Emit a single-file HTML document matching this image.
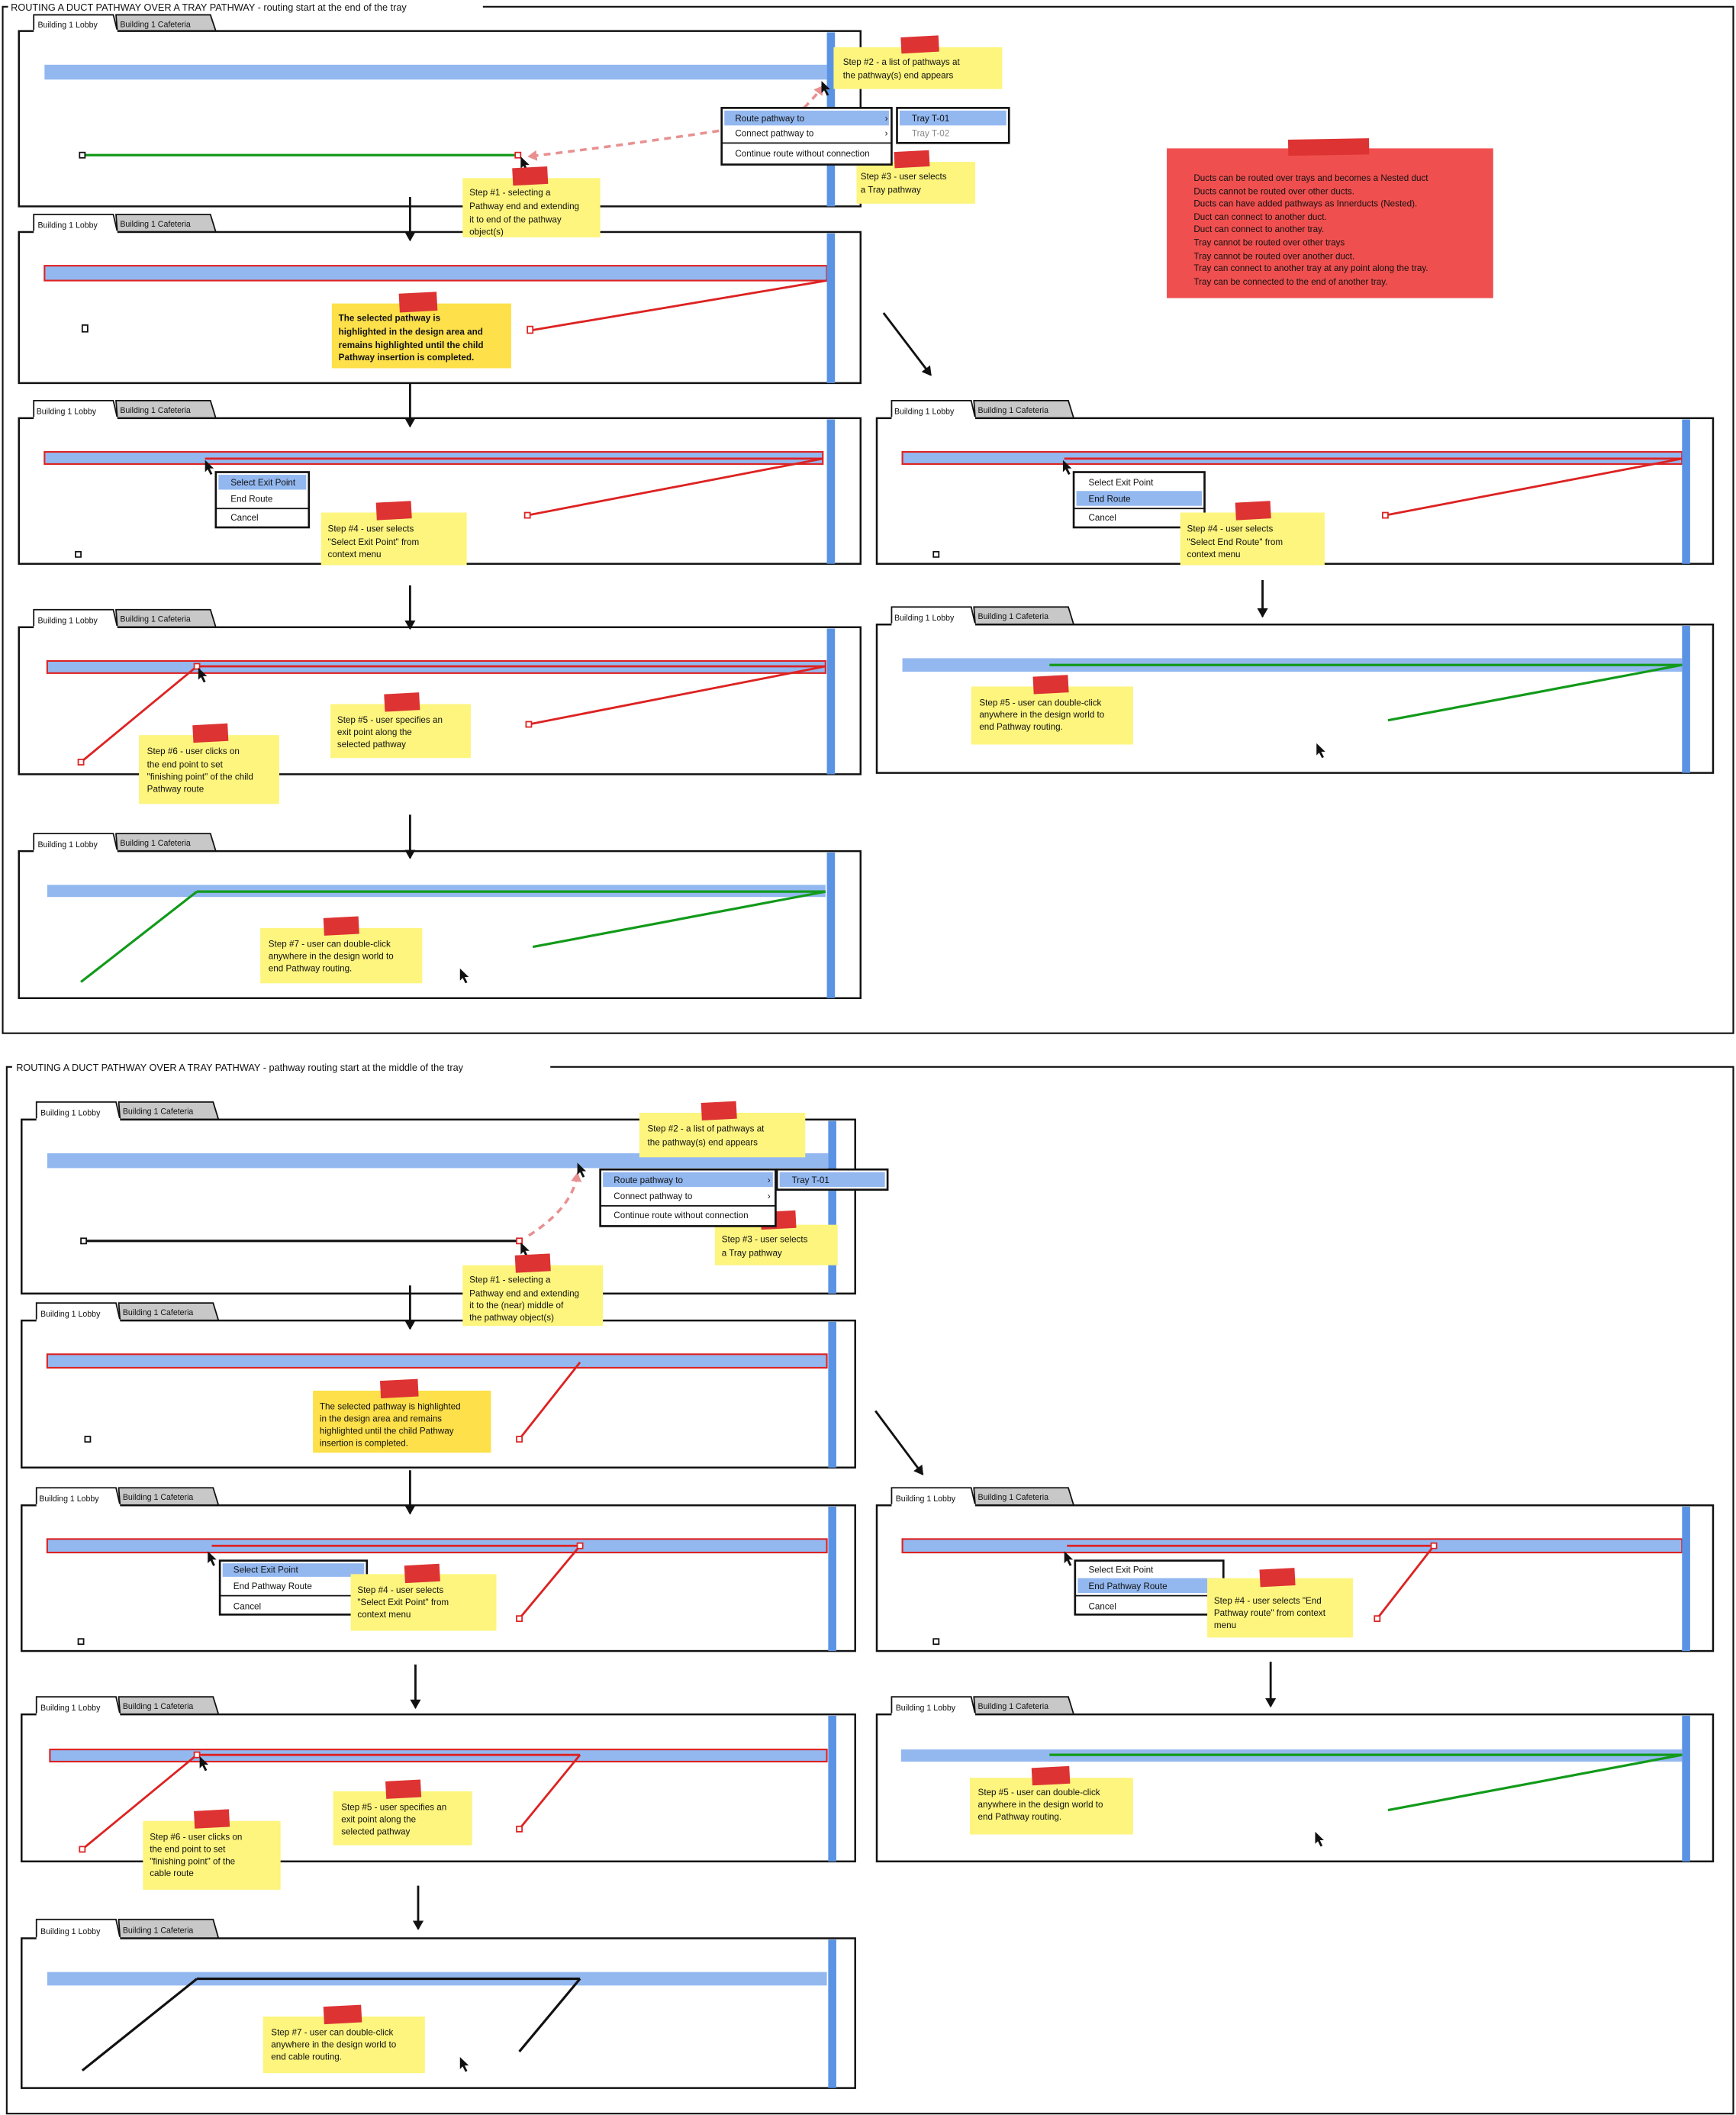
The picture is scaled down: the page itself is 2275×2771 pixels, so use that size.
<!DOCTYPE html>
<html><head><meta charset="utf-8"><style>
html,body{margin:0;padding:0;background:#fff}
svg{display:block}
text{font-family:"Liberation Sans Narrow","Liberation Sans",sans-serif;font-size:6.6px;fill:#111}
.tab{font-size:6px}
.pn{fill:#fff;stroke:#111;stroke-width:1.4}
.bar{fill:#93b8f0}
.hb{fill:#93b8f0;stroke:#d22;stroke-width:1.2}
.vb{fill:#5b93e4}
.st{fill:#fdf57e}
.tp{fill:#dd3333}
.ar{stroke:#111;stroke-width:1.6;fill:none}
.mn{fill:#fff;stroke:#111;stroke-width:1.5}
.hl{fill:#93b8f0}
.sq{fill:#fff;stroke:#111;stroke-width:1}
.rsq{fill:#fff;stroke:#d22;stroke-width:1}
.rl{stroke:#d22;stroke-width:1.6;fill:none}
.gl{stroke:#129a1a;stroke-width:1.8;fill:none}
.bl{stroke:#111;stroke-width:1.8;fill:none}
.dash{stroke:#e89090;stroke-width:2;stroke-dasharray:5 4;fill:none}
.t1{fill:#fff;stroke:#111;stroke-width:1}
.t2{fill:#c8c8c8;stroke:#111;stroke-width:1}
</style></head><body>
<svg width="2275" height="2771" viewBox="0 0 1287 1568" preserveAspectRatio="none" xmlns="http://www.w3.org/2000/svg">
<defs>
<marker id="ah" markerWidth="8" markerHeight="8" refX="6" refY="4" orient="auto" markerUnits="userSpaceOnUse"><path d="M0,0 L7,4 L0,8 Z" fill="#111"/></marker>
<marker id="ph" markerWidth="8" markerHeight="8" refX="6" refY="4" orient="auto" markerUnits="userSpaceOnUse"><path d="M0,0 L7,4 L0,8 Z" fill="#e89090"/></marker>
</defs>

<!-- ===== TOP FRAME ===== -->
<path d="M358,5 L1285,5 L1285,766 L2,766 L2,5 L6,5" fill="none" stroke="#111" stroke-width="1.2"/>
<text x="8" y="8" style="font-size:7.2px">ROUTING A DUCT PATHWAY OVER A TRAY PATHWAY - routing start at the end of the tray</text>

<!-- Panel 1 -->
<path class="t1" d="M25,23 L25,11 L84,11 L87,23 Z"/>
<path class="t2" d="M87,23 L86,11 L156,11 L160,23 Z"/>
<rect class="pn" x="14" y="23" width="624" height="130"/>
<path d="M25,23 L87,23" stroke="#fff" stroke-width="2"/>
<text class="tab" x="28" y="20.5">Building 1 Lobby</text><text class="tab" x="89" y="20">Building 1 Cafeteria</text>
<rect class="bar" x="33" y="48" width="580" height="11"/>
<rect class="vb" x="613" y="24" width="6" height="129"/>
<line class="gl" x1="61" y1="115" x2="384" y2="115"/>
<rect class="sq" x="59" y="113" width="4" height="4"/><rect class="rsq" x="382" y="113" width="4" height="4"/>
<path class="dash" d="M533,97 Q460,108 392,116" marker-end="url(#ph)"/>
<path class="dash" d="M596,80 Q604,72 610,64" marker-end="url(#ph)"/>
<path d="M386,116 l0,9 l2,-2 l2,4 l1.5,-.7 l-2,-4 l3,0 Z" fill="#111"/>
<path d="M609,60 l0,9 l2,-2 l2,4 l1.5,-.7 l-2,-4 l3,0 Z" fill="#111"/>
<rect class="st" x="618" y="35" width="125" height="31"/>
<rect class="tp" x="668" y="27" width="28" height="12" transform="rotate(-3 682 33)"/>
<text x="625" y="48">Step #2 - a list of pathways at</text><text x="625" y="58">the pathway(s) end appears</text>
<rect class="st" x="635" y="120" width="88" height="31"/>
<rect class="tp" x="663" y="112" width="26" height="12" transform="rotate(-3 676 118)"/>
<text x="638" y="133">Step #3 - user selects</text><text x="638" y="143">a Tray pathway</text>
<rect class="mn" x="535" y="80" width="126" height="42"/>
<rect class="hl" x="537" y="82" width="122" height="11"/>
<text x="545" y="90">Route pathway to</text><text x="545" y="101">Connect pathway to</text>
<text x="656" y="90">›</text><text x="656" y="101">›</text>
<line x1="535" y1="106" x2="661" y2="106" stroke="#111"/>
<text x="545" y="116">Continue route without connection</text>
<rect class="mn" x="665" y="80" width="83" height="26"/>
<rect class="hl" x="667" y="82" width="79" height="11"/>
<text x="676" y="90">Tray T-01</text><text x="676" y="101" style="fill:#888">Tray T-02</text>

<!-- Red note -->
<rect x="865" y="110" width="242" height="111" fill="#f04f4f"/>
<rect class="tp" x="955" y="103" width="60" height="12" fill="#d42828" transform="rotate(-1 985 109)"/>
<text x="885" y="134">Ducts can be routed over trays and becomes a Nested duct</text>
<text x="885" y="144">Ducts cannot be routed over other ducts.</text>
<text x="885" y="153">Ducts can have added pathways as Innerducts (Nested).</text>
<text x="885" y="163">Duct can connect to another duct.</text>
<text x="885" y="172">Duct can connect to another tray.</text>
<text x="885" y="182">Tray cannot be routed over other trays</text>
<text x="885" y="192">Tray cannot be routed over another duct.</text>
<text x="885" y="201">Tray can connect to another tray at any point along the tray.</text>
<text x="885" y="211">Tray can be connected to the end of another tray.</text>

<!-- Panel 2 -->
<path class="t1" d="M25,172 L25,159 L84,159 L87,172 Z"/>
<path class="t2" d="M87,172 L86,159 L156,159 L160,172 Z"/>
<rect class="pn" x="14" y="172" width="624" height="112"/>
<path d="M25,172 L87,172" stroke="#fff" stroke-width="2"/>
<text class="tab" x="28" y="169">Building 1 Lobby</text><text class="tab" x="89" y="168">Building 1 Cafeteria</text>
<rect class="hb" x="33" y="197" width="580" height="11"/>
<rect class="vb" x="613" y="173" width="6" height="111"/>
<line class="rl" x1="613" y1="208" x2="393" y2="245"/>
<rect class="rsq" x="391" y="242" width="4" height="5"/>
<rect class="sq" x="61" y="241" width="4" height="5"/>
<rect x="246" y="225" width="133" height="48" fill="#fde04a"/>
<rect class="tp" x="296" y="217" width="28" height="14" transform="rotate(-3 310 224)"/>
<text x="251" y="238" style="font-weight:bold">The selected pathway is</text><text x="251" y="248" style="font-weight:bold">highlighted in the design area and</text><text x="251" y="258" style="font-weight:bold">remains highlighted until the child</text><text x="251" y="267" style="font-weight:bold">Pathway insertion is completed.</text>

<!-- Panel 3 -->
<path class="t1" d="M25,310 L25,297 L84,297 L87,310 Z"/>
<path class="t2" d="M87,310 L86,297 L156,297 L160,310 Z"/>
<rect class="pn" x="14" y="310" width="624" height="108"/>
<path d="M25,310 L87,310" stroke="#fff" stroke-width="2"/>
<text class="tab" x="27" y="307">Building 1 Lobby</text><text class="tab" x="89" y="306">Building 1 Cafeteria</text>
<rect class="hb" x="33" y="335" width="577" height="9"/>
<line class="rl" x1="152" y1="340" x2="610" y2="340"/>
<rect class="vb" x="613" y="311" width="6" height="107"/>
<line class="rl" x1="610" y1="340" x2="391" y2="382"/>
<rect class="rsq" x="389" y="380" width="4" height="4"/>
<rect class="sq" x="56" y="409" width="4" height="4"/>
<path d="M152,341 l0,9 l2,-2 l2,4 l1.5,-.7 l-2,-4 l3,0 Z" fill="#111"/>
<rect class="mn" x="160" y="350" width="69" height="41"/>
<rect class="hl" x="162" y="352" width="65" height="11"/>
<text x="171" y="360">Select Exit Point</text><text x="171" y="372">End Route</text>
<line x1="160" y1="377" x2="229" y2="377" stroke="#111"/>
<text x="171" y="386">Cancel</text>
<rect class="st" x="238" y="380" width="108" height="39"/>
<rect class="tp" x="279" y="372" width="26" height="13" transform="rotate(-3 292 378)"/>
<text x="243" y="394">Step #4 - user selects</text><text x="243" y="404">"Select Exit Point" from</text><text x="243" y="413">context menu</text>

<!-- Panel 4 -->
<path class="t1" d="M25,465 L25,452 L84,452 L87,465 Z"/>
<path class="t2" d="M87,465 L86,452 L156,452 L160,465 Z"/>
<rect class="pn" x="14" y="465" width="624" height="109"/>
<path d="M25,465 L87,465" stroke="#fff" stroke-width="2"/>
<text class="tab" x="28" y="462">Building 1 Lobby</text><text class="tab" x="89" y="461">Building 1 Cafeteria</text>
<rect class="hb" x="35" y="490" width="577" height="9"/>
<line class="rl" x1="146" y1="494" x2="612" y2="494"/>
<rect class="vb" x="613" y="466" width="6" height="108"/>
<line class="rl" x1="612" y1="494" x2="392" y2="537"/>
<line class="rl" x1="146" y1="494" x2="60" y2="565"/>
<rect class="rsq" x="390" y="535" width="4" height="4"/><rect class="rsq" x="58" y="563" width="4" height="4"/><rect class="rsq" x="144" y="492" width="4" height="4"/>
<path d="M147,495 l0,9 l2,-2 l2,4 l1.5,-.7 l-2,-4 l3,0 Z" fill="#111"/>
<rect class="st" x="245" y="522" width="104" height="40"/>
<rect class="tp" x="285" y="514" width="26" height="13" transform="rotate(-3 298 520)"/>
<text x="250" y="536">Step #5 - user specifies an</text><text x="250" y="545">exit point along the</text><text x="250" y="554">selected pathway</text>
<rect class="st" x="103" y="545" width="104" height="51"/>
<rect class="tp" x="143" y="537" width="26" height="13" transform="rotate(-3 156 543)"/>
<text x="109" y="559">Step #6 - user clicks on</text><text x="109" y="569">the end point to set</text><text x="109" y="578">"finishing point" of the child</text><text x="109" y="587">Pathway route</text>

<!-- Panel 5 -->
<path class="t1" d="M25,631 L25,618 L84,618 L87,631 Z"/>
<path class="t2" d="M87,631 L86,618 L156,618 L160,631 Z"/>
<rect class="pn" x="14" y="631" width="624" height="109"/>
<path d="M25,631 L87,631" stroke="#fff" stroke-width="2"/>
<text class="tab" x="28" y="628">Building 1 Lobby</text><text class="tab" x="89" y="627">Building 1 Cafeteria</text>
<rect class="bar" x="35" y="656" width="577" height="9"/>
<rect class="vb" x="613" y="632" width="6" height="108"/>
<line class="gl" x1="146" y1="661" x2="612" y2="661"/>
<line class="gl" x1="146" y1="661" x2="60" y2="728"/>
<line class="gl" x1="612" y1="661" x2="395" y2="702"/>
<rect class="st" x="193" y="688" width="120" height="41"/>
<rect class="tp" x="240" y="680" width="26" height="13" transform="rotate(-3 253 686)"/>
<text x="199" y="702">Step #7 - user can double-click</text><text x="199" y="711">anywhere in the design world to</text><text x="199" y="720">end Pathway routing.</text>
<path d="M341,718 l0,9 l2,-2 l2,4 l1.5,-.7 l-2,-4 l3,0 Z" fill="#111"/>

<!-- Right column top -->
<path class="t1" d="M661,310 L661,297 L720,297 L723,310 Z"/>
<path class="t2" d="M723,310 L722,297 L792,297 L796,310 Z"/>
<rect class="pn" x="650" y="310" width="620" height="108"/>
<path d="M661,310 L723,310" stroke="#fff" stroke-width="2"/>
<text class="tab" x="663" y="307">Building 1 Lobby</text><text class="tab" x="725" y="306">Building 1 Cafeteria</text>
<rect class="hb" x="669" y="335" width="578" height="9"/>
<line class="rl" x1="789" y1="340" x2="1247" y2="340"/>
<rect class="vb" x="1247" y="311" width="6" height="107"/>
<line class="rl" x1="1247" y1="340" x2="1027" y2="382"/>
<rect class="rsq" x="1025" y="380" width="4" height="4"/>
<rect class="sq" x="692" y="409" width="4" height="4"/>
<path d="M788,341 l0,9 l2,-2 l2,4 l1.5,-.7 l-2,-4 l3,0 Z" fill="#111"/>
<rect class="mn" x="796" y="350" width="97" height="41"/>
<rect class="hl" x="798" y="364" width="93" height="11"/>
<text x="807" y="360">Select Exit Point</text><text x="807" y="372">End Route</text>
<line x1="796" y1="377" x2="893" y2="377" stroke="#111"/>
<text x="807" y="386">Cancel</text>
<rect class="st" x="875" y="380" width="107" height="39"/>
<rect class="tp" x="916" y="372" width="26" height="13" transform="rotate(-3 929 378)"/>
<text x="880" y="394">Step #4 - user selects</text><text x="880" y="404">"Select End Route" from</text><text x="880" y="413">context menu</text>

<path class="t1" d="M661,463 L661,450 L720,450 L723,463 Z"/>
<path class="t2" d="M723,463 L722,450 L792,450 L796,463 Z"/>
<rect class="pn" x="650" y="463" width="620" height="110"/>
<path d="M661,463 L723,463" stroke="#fff" stroke-width="2"/>
<text class="tab" x="663" y="460">Building 1 Lobby</text><text class="tab" x="725" y="459">Building 1 Cafeteria</text>
<rect class="bar" x="669" y="488" width="578" height="10"/>
<rect class="vb" x="1247" y="464" width="6" height="109"/>
<line class="gl" x1="778" y1="493" x2="1247" y2="493"/>
<line class="gl" x1="1247" y1="493" x2="1029" y2="534"/>
<rect class="st" x="720" y="509" width="120" height="43"/>
<rect class="tp" x="766" y="501" width="26" height="13" transform="rotate(-3 779 507)"/>
<text x="726" y="523">Step #5 - user can double-click</text><text x="726" y="532">anywhere in the design world to</text><text x="726" y="541">end Pathway routing.</text>
<path d="M976,551 l0,9 l2,-2 l2,4 l1.5,-.7 l-2,-4 l3,0 Z" fill="#111"/>

<!-- ===== BOTTOM FRAME ===== -->
<path d="M408,791 L1285,791 L1285,1567 L5,1567 L5,791 L9,791" fill="none" stroke="#111" stroke-width="1.2"/>
<text x="12" y="794" style="font-size:7.2px">ROUTING A DUCT PATHWAY OVER A TRAY PATHWAY - pathway routing start at the middle of the tray</text>

<!-- B1 -->
<path class="t1" d="M27,830 L27,817 L86,817 L89,830 Z"/>
<path class="t2" d="M89,830 L88,817 L158,817 L162,830 Z"/>
<rect class="pn" x="16" y="830" width="618" height="129"/>
<path d="M27,830 L89,830" stroke="#fff" stroke-width="2"/>
<text class="tab" x="30" y="827">Building 1 Lobby</text><text class="tab" x="91" y="826">Building 1 Cafeteria</text>
<rect class="bar" x="35" y="855" width="579" height="11"/>
<rect class="vb" x="614" y="831" width="6" height="128"/>
<line class="bl" x1="62" y1="920" x2="385" y2="920"/>
<rect class="sq" x="60" y="918" width="4" height="4"/><rect class="rsq" x="383" y="918" width="4" height="4"/>
<path class="dash" d="M392,916 Q425,895 428,870" marker-end="url(#ph)"/>
<path d="M386,921 l0,9 l2,-2 l2,4 l1.5,-.7 l-2,-4 l3,0 Z" fill="#111"/>
<path d="M428,862 l0,9 l2,-2 l2,4 l1.5,-.7 l-2,-4 l3,0 Z" fill="#111"/>
<rect class="st" x="474" y="825" width="123" height="33"/>
<rect class="tp" x="520" y="817" width="26" height="13" transform="rotate(-3 533 823)"/>
<text x="480" y="839">Step #2 - a list of pathways at</text><text x="480" y="849">the pathway(s) end appears</text>
<rect class="st" x="530" y="908" width="91" height="30"/>
<rect class="tp" x="564" y="898" width="26" height="13" transform="rotate(-3 577 904)"/>
<text x="535" y="921">Step #3 - user selects</text><text x="535" y="931">a Tray pathway</text>
<rect class="mn" x="445" y="867" width="130" height="42"/>
<rect class="hl" x="447" y="869" width="126" height="11"/>
<text x="455" y="877">Route pathway to</text><text x="455" y="889">Connect pathway to</text>
<text x="569" y="877">›</text><text x="569" y="889">›</text>
<line x1="445" y1="894" x2="575" y2="894" stroke="#111"/>
<text x="455" y="903">Continue route without connection</text>
<rect class="mn" x="576" y="867" width="82" height="15"/>
<rect class="hl" x="578" y="869" width="78" height="11"/>
<text x="587" y="877">Tray T-01</text>

<!-- B2 -->
<path class="t1" d="M27,979 L27,966 L86,966 L89,979 Z"/>
<path class="t2" d="M89,979 L88,966 L158,966 L162,979 Z"/>
<rect class="pn" x="16" y="979" width="618" height="109"/>
<path d="M27,979 L89,979" stroke="#fff" stroke-width="2"/>
<text class="tab" x="30" y="976">Building 1 Lobby</text><text class="tab" x="91" y="975">Building 1 Cafeteria</text>
<rect class="hb" x="35" y="1004" width="578" height="10"/>
<rect class="vb" x="614" y="980" width="6" height="108"/>
<line class="rl" x1="430" y1="1010" x2="385" y2="1067"/>
<rect class="rsq" x="383" y="1065" width="4" height="4"/>
<rect class="sq" x="63" y="1065" width="4" height="4"/>
<rect x="232" y="1031" width="132" height="46" fill="#fde04a"/>
<rect class="tp" x="282" y="1023" width="28" height="13" transform="rotate(-3 296 1029)"/>
<text x="237" y="1045">The selected pathway is highlighted</text><text x="237" y="1054">in the design area and remains</text><text x="237" y="1063">highlighted until the child Pathway</text><text x="237" y="1072">insertion is completed.</text>

<!-- B3 -->
<path class="t1" d="M27,1116 L27,1103 L86,1103 L89,1116 Z"/>
<path class="t2" d="M89,1116 L88,1103 L158,1103 L162,1116 Z"/>
<rect class="pn" x="16" y="1116" width="618" height="108"/>
<path d="M27,1116 L89,1116" stroke="#fff" stroke-width="2"/>
<text class="tab" x="29" y="1113">Building 1 Lobby</text><text class="tab" x="91" y="1112">Building 1 Cafeteria</text>
<rect class="hb" x="35" y="1141" width="578" height="10"/>
<line class="rl" x1="157" y1="1146" x2="430" y2="1146"/>
<rect class="vb" x="614" y="1117" width="6" height="107"/>
<line class="rl" x1="430" y1="1146" x2="385" y2="1200"/>
<rect class="rsq" x="428" y="1144" width="4" height="4"/><rect class="rsq" x="383" y="1198" width="4" height="4"/>
<rect class="sq" x="58" y="1215" width="4" height="4"/>
<path d="M154,1150 l0,9 l2,-2 l2,4 l1.5,-.7 l-2,-4 l3,0 Z" fill="#111"/>
<rect class="mn" x="163" y="1157" width="109" height="40"/>
<rect class="hl" x="165" y="1159" width="105" height="10"/>
<text x="173" y="1166">Select Exit Point</text><text x="173" y="1178">End Pathway Route</text>
<line x1="163" y1="1183" x2="272" y2="1183" stroke="#111"/>
<text x="173" y="1193">Cancel</text>
<rect class="st" x="260" y="1167" width="108" height="42"/>
<rect class="tp" x="300" y="1160" width="26" height="13" transform="rotate(-3 313 1166)"/>
<text x="265" y="1181">Step #4 - user selects</text><text x="265" y="1190">"Select Exit Point" from</text><text x="265" y="1199">context menu</text>

<!-- B4 -->
<path class="t1" d="M27,1271 L27,1258 L86,1258 L89,1271 Z"/>
<path class="t2" d="M89,1271 L88,1258 L158,1258 L162,1271 Z"/>
<rect class="pn" x="16" y="1271" width="618" height="109"/>
<path d="M27,1271 L89,1271" stroke="#fff" stroke-width="2"/>
<text class="tab" x="30" y="1268">Building 1 Lobby</text><text class="tab" x="91" y="1267">Building 1 Cafeteria</text>
<rect class="hb" x="37" y="1297" width="576" height="9"/>
<line class="rl" x1="146" y1="1301" x2="430" y2="1301"/>
<rect class="vb" x="614" y="1272" width="6" height="108"/>
<line class="rl" x1="146" y1="1301" x2="61" y2="1371"/>
<line class="rl" x1="430" y1="1301" x2="385" y2="1356"/>
<rect class="rsq" x="144" y="1299" width="4" height="4"/><rect class="rsq" x="59" y="1369" width="4" height="4"/><rect class="rsq" x="383" y="1354" width="4" height="4"/>
<path d="M148,1302 l0,9 l2,-2 l2,4 l1.5,-.7 l-2,-4 l3,0 Z" fill="#111"/>
<rect class="st" x="247" y="1328" width="103" height="40"/>
<rect class="tp" x="286" y="1320" width="26" height="13" transform="rotate(-3 299 1326)"/>
<text x="253" y="1342">Step #5 - user specifies an</text><text x="253" y="1351">exit point along the</text><text x="253" y="1360">selected pathway</text>
<rect class="st" x="106" y="1350" width="102" height="51"/>
<rect class="tp" x="144" y="1342" width="26" height="13" transform="rotate(-3 157 1348)"/>
<text x="111" y="1364">Step #6 - user clicks on</text><text x="111" y="1373">the end point to set</text><text x="111" y="1382">"finishing point" of the</text><text x="111" y="1391">cable route</text>

<!-- B5 -->
<path class="t1" d="M27,1437 L27,1423 L86,1423 L89,1437 Z"/>
<path class="t2" d="M89,1437 L88,1423 L158,1423 L162,1437 Z"/>
<rect class="pn" x="16" y="1437" width="618" height="111"/>
<path d="M27,1437 L89,1437" stroke="#fff" stroke-width="2"/>
<text class="tab" x="30" y="1434">Building 1 Lobby</text><text class="tab" x="91" y="1433">Building 1 Cafeteria</text>
<rect class="bar" x="35" y="1462" width="578" height="10"/>
<rect class="vb" x="614" y="1438" width="6" height="110"/>
<line class="bl" x1="146" y1="1467" x2="430" y2="1467"/>
<line class="bl" x1="146" y1="1467" x2="61" y2="1535"/>
<line class="bl" x1="430" y1="1467" x2="385" y2="1521"/>
<rect class="st" x="195" y="1495" width="120" height="42"/>
<rect class="tp" x="240" y="1487" width="28" height="13" transform="rotate(-3 254 1493)"/>
<text x="201" y="1509">Step #7 - user can double-click</text><text x="201" y="1518">anywhere in the design world to</text><text x="201" y="1527">end cable routing.</text>
<path d="M341,1525 l0,9 l2,-2 l2,4 l1.5,-.7 l-2,-4 l3,0 Z" fill="#111"/>

<!-- BR1 -->
<path class="t1" d="M661,1116 L661,1103 L720,1103 L723,1116 Z"/>
<path class="t2" d="M723,1116 L722,1103 L792,1103 L796,1116 Z"/>
<rect class="pn" x="650" y="1116" width="620" height="108"/>
<path d="M661,1116 L723,1116" stroke="#fff" stroke-width="2"/>
<text class="tab" x="664" y="1113">Building 1 Lobby</text><text class="tab" x="725" y="1112">Building 1 Cafeteria</text>
<rect class="hb" x="669" y="1141" width="578" height="10"/>
<line class="rl" x1="791" y1="1146" x2="1063" y2="1146"/>
<rect class="vb" x="1247" y="1117" width="6" height="107"/>
<line class="rl" x1="1063" y1="1146" x2="1021" y2="1200"/>
<rect class="rsq" x="1061" y="1144" width="4" height="4"/><rect class="rsq" x="1019" y="1198" width="4" height="4"/>
<rect class="sq" x="692" y="1215" width="4" height="4"/>
<path d="M789,1150 l0,9 l2,-2 l2,4 l1.5,-.7 l-2,-4 l3,0 Z" fill="#111"/>
<rect class="mn" x="797" y="1157" width="110" height="40"/>
<rect class="hl" x="799" y="1170" width="106" height="11"/>
<text x="807" y="1166">Select Exit Point</text><text x="807" y="1178">End Pathway Route</text>
<line x1="797" y1="1183" x2="907" y2="1183" stroke="#111"/>
<text x="807" y="1193">Cancel</text>
<rect class="st" x="895" y="1170" width="108" height="44"/>
<rect class="tp" x="934" y="1163" width="26" height="13" transform="rotate(-3 947 1169)"/>
<text x="900" y="1189">Step #4 - user selects "End</text><text x="900" y="1198">Pathway route" from context</text><text x="900" y="1207">menu</text>

<!-- BR2 -->
<path class="t1" d="M661,1271 L661,1258 L720,1258 L723,1271 Z"/>
<path class="t2" d="M723,1271 L722,1258 L792,1258 L796,1271 Z"/>
<rect class="pn" x="650" y="1271" width="620" height="109"/>
<path d="M661,1271 L723,1271" stroke="#fff" stroke-width="2"/>
<text class="tab" x="664" y="1268">Building 1 Lobby</text><text class="tab" x="725" y="1267">Building 1 Cafeteria</text>
<rect class="bar" x="668" y="1297" width="579" height="9"/>
<rect class="vb" x="1247" y="1272" width="6" height="108"/>
<line class="gl" x1="778" y1="1301" x2="1247" y2="1301"/>
<line class="gl" x1="1247" y1="1301" x2="1029" y2="1342"/>
<rect class="st" x="719" y="1318" width="121" height="42"/>
<rect class="tp" x="765" y="1310" width="28" height="13" transform="rotate(-3 779 1316)"/>
<text x="725" y="1331">Step #5 - user can double-click</text><text x="725" y="1340">anywhere in the design world to</text><text x="725" y="1349">end Pathway routing.</text>
<path d="M975,1358 l0,9 l2,-2 l2,4 l1.5,-.7 l-2,-4 l3,0 Z" fill="#111"/>

<!-- ===== Arrows (on top) ===== -->
<line class="ar" x1="304" y1="146" x2="304" y2="178" marker-end="url(#ah)"/>
<line class="ar" x1="304" y1="284" x2="304" y2="316" marker-end="url(#ah)"/>
<line class="ar" x1="304" y1="434" x2="304" y2="466" marker-end="url(#ah)"/>
<line class="ar" x1="304" y1="604" x2="304" y2="636" marker-end="url(#ah)"/>
<line class="ar" x1="655" y1="232" x2="690" y2="278" marker-end="url(#ah)"/>
<line class="ar" x1="936" y1="430" x2="936" y2="457" marker-end="url(#ah)"/>
<line class="ar" x1="304" y1="953" x2="304" y2="985" marker-end="url(#ah)"/>
<line class="ar" x1="304" y1="1090" x2="304" y2="1122" marker-end="url(#ah)"/>
<line class="ar" x1="308" y1="1234" x2="308" y2="1266" marker-end="url(#ah)"/>
<line class="ar" x1="310" y1="1398" x2="310" y2="1430" marker-end="url(#ah)"/>
<line class="ar" x1="649" y1="1046" x2="684" y2="1093" marker-end="url(#ah)"/>
<line class="ar" x1="942" y1="1232" x2="942" y2="1265" marker-end="url(#ah)"/>

<!-- Step #1 stickies (overlap next panel) -->
<rect class="st" x="343" y="132" width="102" height="44"/>
<rect class="tp" x="380" y="124" width="26" height="13" transform="rotate(-3 393 130)"/>
<text x="348" y="145">Step #1 - selecting a</text><text x="348" y="155">Pathway end and extending</text><text x="348" y="165">it to end of the pathway</text><text x="348" y="174">object(s)</text>
<rect class="st" x="343" y="938" width="104" height="45"/>
<rect class="tp" x="382" y="930" width="26" height="13" transform="rotate(-3 395 936)"/>
<text x="348" y="951">Step #1 - selecting a</text><text x="348" y="961">Pathway end and extending</text><text x="348" y="970">it to the (near) middle of</text><text x="348" y="979">the pathway object(s)</text>
</svg>
</body></html>
